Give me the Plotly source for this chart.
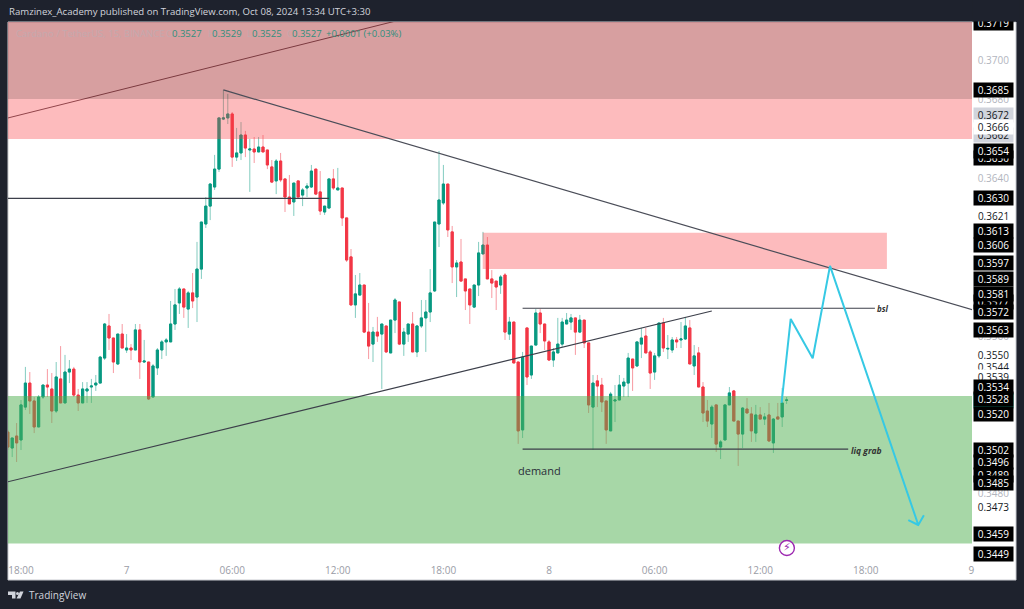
import pandas as pd
import plotly.graph_objects as go

# ---------- data (ADA/USDT 15m, prices x 100000) ----------
opens_e5 = [35110,35029,35090,35070,35237,35359,35268,35136,35288,35349,
35329,35217,35380,35258,35415,35430,35298,35258,35319,35339,
35349,35359,35486,35649,35588,35456,35608,35527,35537,35527,
35629,35466,35466,35288,35436,35527,35568,35568,35659,35766,
35837,35735,35817,35796,35938,36167,36258,36355,36446,36700,
36706,36726,36507,36528,36619,36543,36548,36533,36558,36543,
36457,36386,36487,36396,36304,36279,36386,36314,36350,36355,
36446,36330,36228,36248,36396,36340,36350,36198,36000,35756,
35806,35857,35618,35557,35618,35608,35649,35512,35679,35771,
35557,35608,35659,35517,35649,35690,35720,35827,36167,36274,
36370,36127,35949,35974,35888,35837,35745,35857,36015,36060,
35888,35877,35857,35908,35608,35669,35466,35121,35639,35400,
35552,35715,35659,35568,35476,35512,35557,35659,35669,35690,
35618,35679,35563,35237,35370,35349,35268,35116,35268,35273,
35344,35359,35481,35446,35557,35598,35517,35415,35497,35664,
35532,35527,35578,35578,35583,35639,35446,35512,35339,35217,
35151,35248,35034,35070,35248,35319,35166,35100,35227,35202,
35105,35197,35176,35197,35055,35187,35187,35271]
highs_e5 = [35121,35080,35156,35273,35441,35415,35288,35298,35349,35430,
35410,35466,35547,35502,35476,35441,35329,35364,35364,35380,
35400,35497,35664,35710,35588,35608,35659,35608,35557,35659,
35659,35578,35466,35456,35537,35578,35588,35776,35837,35847,
35837,35827,35918,36076,36177,36304,36375,36518,36706,36848,
36828,36736,36655,36685,36640,36599,36609,36609,36619,36543,
36492,36497,36528,36396,36416,36375,36386,36350,36375,36467,
36446,36436,36258,36396,36446,36452,36350,36198,36040,35908,
35918,35857,35766,35644,35695,35659,35649,35679,35791,35771,
35639,35659,35720,35654,35781,35781,35938,36177,36538,36467,
36370,36157,35984,36091,35888,35837,35857,36076,36127,36101,
35933,35877,35908,35918,35695,35669,35466,35517,35639,35547,
35735,35735,35659,35578,35537,35690,35690,35715,35710,35690,
35705,35679,35563,35400,35400,35385,35268,35314,35349,35400,
35385,35512,35481,35568,35639,35639,35527,35512,35664,35690,
35603,35593,35593,35669,35695,35679,35552,35542,35364,35273,
35248,35248,35070,35248,35339,35324,35166,35237,35283,35237,
35248,35237,35207,35258,35181,35258,35334,35288]
lows_e5 = [35019,34983,34958,35019,35222,35202,35105,35136,35278,35288,
35156,35207,35258,35258,35359,35288,35217,35258,35258,35258,
35319,35359,35476,35527,35410,35451,35537,35512,35476,35527,
35380,35461,35273,35288,35400,35481,35497,35568,35629,35710,
35690,35639,35740,35669,35888,36147,36187,36340,36431,36695,
36675,36457,36487,36492,36507,36330,36477,36533,36533,36446,
36375,36319,36380,36228,36269,36208,36304,36258,36304,36350,
36314,36213,36213,36248,36340,36340,36157,35974,35751,35690,
35806,35613,35481,35466,35568,35329,35512,35512,35613,35552,
35497,35568,35517,35491,35639,35517,35669,35822,36050,36264,
36101,35867,35796,35877,35730,35659,35740,35801,36015,35888,
35791,35730,35812,35578,35578,35461,35050,35080,35349,35380,
35552,35613,35527,35471,35441,35512,35542,35659,35629,35502,
35613,35537,35207,35019,35237,35212,35050,35116,35161,35273,
35288,35288,35319,35441,35486,35512,35329,35375,35486,35517,
35481,35512,35537,35537,35578,35456,35400,35339,35161,35136,
35080,35009,34973,35070,35248,35166,34938,35029,35207,35060,
35060,35176,35146,35060,35004,35176,35136,35253]
closes_e5 = [35034,35080,35055,35248,35359,35268,35136,35288,35349,35339,
35217,35390,35258,35415,35430,35298,35258,35329,35329,35344,
35359,35491,35659,35588,35466,35608,35537,35537,35527,35629,
35466,35471,35278,35446,35527,35568,35578,35659,35756,35837,
35745,35817,35776,35938,36177,36258,36370,36446,36706,36706,
36726,36507,36528,36619,36553,36548,36533,36558,36533,36467,
36380,36487,36391,36304,36269,36375,36304,36340,36360,36436,
36319,36233,36258,36396,36350,36350,36198,35984,35756,35812,
35857,35618,35547,35618,35598,35659,35517,35679,35781,35557,
35618,35659,35517,35649,35690,35720,35817,36177,36289,36370,
36137,35949,35969,35877,35827,35756,35857,36020,36060,35888,
35867,35847,35898,35618,35669,35461,35116,35491,35390,35547,
35715,35659,35573,35476,35517,35557,35669,35679,35690,35618,
35679,35563,35248,35359,35344,35263,35121,35303,35273,35349,
35364,35486,35436,35568,35588,35512,35410,35497,35664,35537,
35535,35578,35568,35583,35649,35456,35497,35339,35207,35166,
35237,35049,35060,35248,35309,35166,35100,35232,35207,35116,
35197,35176,35187,35065,35176,35176,35258,35273]

tick_times = ["2024-10-06 18:00","2024-10-07 00:00","2024-10-07 06:00","2024-10-07 12:00","2024-10-07 18:00",
              "2024-10-08 00:00","2024-10-08 06:00","2024-10-08 12:00","2024-10-08 18:00","2024-10-09 00:00"]
tick_text = ["18:00","7","06:00","12:00","18:00","8","06:00","12:00","18:00","9"]

X_LO, X_HI = "2024-10-06 17:15:40", "2024-10-09 00:02:04"
Y_HI, Y_LO = 0.371932, 0.344805

zone_left, zone_right = "2024-10-06 17:00", "2024-10-09 01:00"
supply_low, supply_high = 0.36599, 0.3725
overlay_low = 0.36802
mid_zone_times = ["2024-10-07 20:14", "2024-10-08 19:12"]
mid_zone_low, mid_zone_high = 0.35938, 0.36123
demand_low, demand_high = 0.34544, 0.35293

upper_trend_t = ["2024-10-06 17:00", "2024-10-07 15:25"]
upper_trend_p = [0.36700, 0.37201]
down_trend_t = ["2024-10-07 05:30", "2024-10-09 00:06"]
down_trend_p = [0.36848, 0.35730]
level_t = ["2024-10-06 17:00", "2024-10-07 11:30"]
level_p = [0.36297, 0.36297]
up_trend_t = ["2024-10-06 17:00", "2024-10-08 09:15"]
up_trend_p = [0.34852, 0.35725]
bsl_t = ["2024-10-07 22:30", "2024-10-08 18:31"]
bsl_p = [0.35739, 0.35739]
liq_t = ["2024-10-07 22:30", "2024-10-08 17:00"]
liq_p = [0.35023, 0.35023]

path_t = ["2024-10-08 13:13","2024-10-08 13:44","2024-10-08 14:59","2024-10-08 15:58","2024-10-08 20:59",
          "2024-10-08 20:25","2024-10-08 20:59","2024-10-08 21:18"]
path_p = [0.35259,0.35685,0.35485,0.35954,0.34638,0.34663,0.34638,0.34687]

# (price text, style); later entries paint over earlier ones
axis_labels = [
 ("0.3700","faint"),("0.3680","faint"),("0.3662","grey"),("0.3672","grey"),("0.3666","plain"),
 ("0.3650","black"),("0.3654","black"),("0.3640","faint"),("0.3719","black"),("0.3685","black"),
 ("0.3630","black"),("0.3621","plain"),("0.3613","black"),("0.3606","black"),("0.3597","black"),
 ("0.3589","black"),("0.3577","black"),("0.3581","black"),("0.3572","black"),("0.3560","faint"),("0.3563","black"),
 ("0.3550","plain"),("0.3544","plain"),("0.3539","plain"),("0.3534","black"),("0.3527","teal"),("0.3528","black"),
 ("0.3520","black"),("0.3502","black"),("0.3496","black"),("0.3489","black"),("0.3480","faint"),("0.3485","black"),
 ("0.3473","plain"),("0.3459","black"),("0.3449","black"),
]
label_styles = {
 "black": ("#000000", "#ffffff"), "grey": ("#d1d4dc", "#131722"), "teal": ("#089981", "#ffffff"),
 "plain": ("#ffffff", "#131722"), "faint": ("#ffffff", "#b2b5be"),
}

# ---------- figure ----------
W, H = 1024, 609
L, R, T, B = 8, 972, 22, 556
def xp(px): return (px - L) / (R - L)
def yp(py): return 1 - (py - T) / (B - T)

times = pd.date_range("2024-10-06 17:15", periods=len(opens_e5), freq="15min")
o = [v / 1e5 for v in opens_e5]
h = [v / 1e5 for v in highs_e5]
l = [v / 1e5 for v in lows_e5]
c = [v / 1e5 for v in closes_e5]
body_hi = [max(a, b) for a, b in zip(o, c)]
body_lo = [min(a, b) for a, b in zip(o, c)]

UP, DOWN = "#089981", "#f23645"
fig = go.Figure()
fig.add_trace(go.Candlestick(x=times, open=o, high=h, low=l, close=c, whiskerwidth=0,
    increasing=dict(line=dict(color="rgba(8,153,129,0.5)", width=1), fillcolor="rgba(0,0,0,0)"),
    decreasing=dict(line=dict(color="rgba(242,54,69,0.5)", width=1), fillcolor="rgba(0,0,0,0)")))
fig.add_trace(go.Candlestick(x=times, open=o, high=body_hi, low=body_lo, close=c, whiskerwidth=0,
    increasing=dict(line=dict(color=UP, width=1), fillcolor=UP),
    decreasing=dict(line=dict(color=DOWN, width=1), fillcolor=DOWN)))

def line(t, p, color, width=1.2):
    fig.add_trace(go.Scatter(x=t, y=p, mode="lines", line=dict(color=color, width=width), hoverinfo="skip"))
def zone(t0, t1, p0, p1, color):
    fig.add_trace(go.Scatter(x=[t0, t1, t1, t0, t0], y=[p0, p0, p1, p1, p0], mode="none",
                             fill="toself", fillcolor=color, hoverinfo="skip"))

line(upper_trend_t, upper_trend_p, "#5a4a50", 1)
PINK = "rgba(250,60,65,0.35)"
zone(zone_left, zone_right, supply_low, supply_high, PINK)
zone(zone_left, zone_right, overlay_low, supply_high, "rgba(0,0,0,0.15)")
zone(mid_zone_times[0], mid_zone_times[1], mid_zone_low, mid_zone_high, PINK)
zone(zone_left, zone_right, demand_low, demand_high, "rgba(80,175,80,0.5)")
line(down_trend_t, down_trend_p, "#4a4d58")
line(level_t, level_p, "#3c3f4a")
line(up_trend_t, up_trend_p, "#3c3f4a")
line(bsl_t, bsl_p, "#3c3f4a")
line(liq_t, liq_p, "#3c3f4a")
line(path_t, path_p, "#36c9e4", 2)

fig.add_trace(go.Scatter(x=["2024-10-08 13:31"], y=[0.34521], mode="markers+text", text=["⚡"],
    textposition="middle center", textfont=dict(color="#9c27b0", size=11, family="DejaVu Sans"),
    marker=dict(size=15, color="#ffffff", line=dict(color="#9c27b0", width=1.4)),
    cliponaxis=False, hoverinfo="skip"))

ann = []
FONT = "Open Sans"
for text, style in axis_labels:
    bg, fg = label_styles[style]
    ann.append(dict(x=xp(993.5), xref="paper", y=float(text), yref="y", text=text, showarrow=False,
                    xanchor="center", yanchor="middle", width=39, height=14, bgcolor=bg, borderpad=0,
                    font=dict(size=10, color=fg, family=FONT)))
# dark cover over the top of the price scale
ann.append(dict(x=xp(972), xref="paper", y=1, yref="paper", text=" ", showarrow=False, xanchor="left",
                yanchor="bottom", width=46, height=22, bgcolor="#1e222d", borderpad=0, font=dict(size=10)))
ann.append(dict(x=xp(8), xref="paper", y=yp(12), yref="paper", text="Ramzinex_Academy published on TradingView.com, Oct 08, 2024 13:34 UTC+3:30",
                showarrow=False, xanchor="left", yanchor="middle", font=dict(size=9.6, color="#d1d4dc", family=FONT), borderpad=0))
LEG = "#c4a9ae"; VAL = "#2f8f7e"
for px, txt, col in [(15,"Cardano / TetherUS, 15, BINANCE",LEG),(165,"O",LEG),(171,"0.3527",VAL),(207,"H",LEG),(211,"0.3529",VAL),
                     (246,"L",LEG),(251,"0.3525",VAL),(286,"C",LEG),(291,"0.3527",VAL),(325,"+0.0001 (+0.03%)",VAL)]:
    ann.append(dict(x=xp(px), xref="paper", y=yp(33.5), yref="paper", text=txt, showarrow=False, xanchor="left",
                    yanchor="middle", font=dict(size=9.5, color=col, family=FONT), borderpad=0))
ann.append(dict(x="2024-10-08 19:00", y=0.3574, text="<i><b>bsl</b></i>", showarrow=False,
                font=dict(size=8, color="#333", family=FONT)))
ann.append(dict(x="2024-10-08 18:01", y=0.35019, text="<i><b>liq grab</b></i>", showarrow=False,
                font=dict(size=8.5, color="#333", family=FONT)))
ann.append(dict(x="2024-10-07 23:29", y=0.34917, text="demand", showarrow=False,
                font=dict(size=11, color="#2a2e39", family=FONT)))
ann.append(dict(x=xp(28), xref="paper", y=yp(595), yref="paper", text="TradingView", showarrow=False, xanchor="left",
                yanchor="middle", font=dict(size=10, color="#d1d4dc", family=FONT), borderpad=0))

def pth(points):
    return "M" + " L".join(f"{xp(a):.5f},{yp(b):.5f}" for a, b in points) + " Z"
LOGO = "#d1d4dc"
shapes = [
    dict(type="rect", xref="paper", yref="paper", x0=xp(8), x1=xp(1016), y0=yp(580), y1=yp(22),
         fillcolor="#ffffff", line=dict(color="#c8cad0", width=1), layer="below"),
    dict(type="path", xref="paper", yref="paper", path=pth([(8,591.5),(15.5,591.5),(15.5,598.5),(12,598.5),(12,595),(8,595)]),
         fillcolor=LOGO, line=dict(width=0), layer="above"),
    dict(type="circle", xref="paper", yref="paper", x0=xp(16), x1=xp(19), y0=yp(595), y1=yp(592),
         fillcolor=LOGO, line=dict(width=0), layer="above"),
    dict(type="path", xref="paper", yref="paper", path=pth([(20,591.5),(23.5,591.5),(20.5,598.5),(16.5,598.5)]),
         fillcolor=LOGO, line=dict(width=0), layer="above"),
]

fig.update_layout(
    width=W, height=H, margin=dict(l=L, r=W - R, t=T, b=H - B, pad=0), showlegend=False,
    paper_bgcolor="#1e222d", plot_bgcolor="#ffffff", annotations=ann, shapes=shapes,
    font=dict(family=FONT),
    xaxis=dict(type="date", range=[X_LO, X_HI], rangeslider=dict(visible=False), showgrid=False, zeroline=False,
               showline=False, tickmode="array", tickvals=tick_times, ticktext=tick_text, ticks="outside",
               ticklen=5, tickcolor="rgba(0,0,0,0)", tickfont=dict(size=10, color="#9a9ca6", family=FONT)),
    yaxis=dict(range=[Y_LO, Y_HI], showgrid=False, zeroline=False, showline=False, showticklabels=False, ticks=""),
)

fig.write_html("out.html", config={"displayModeBar": False},
               post_script="document.body.style.margin='0';document.body.style.overflow='hidden';")
